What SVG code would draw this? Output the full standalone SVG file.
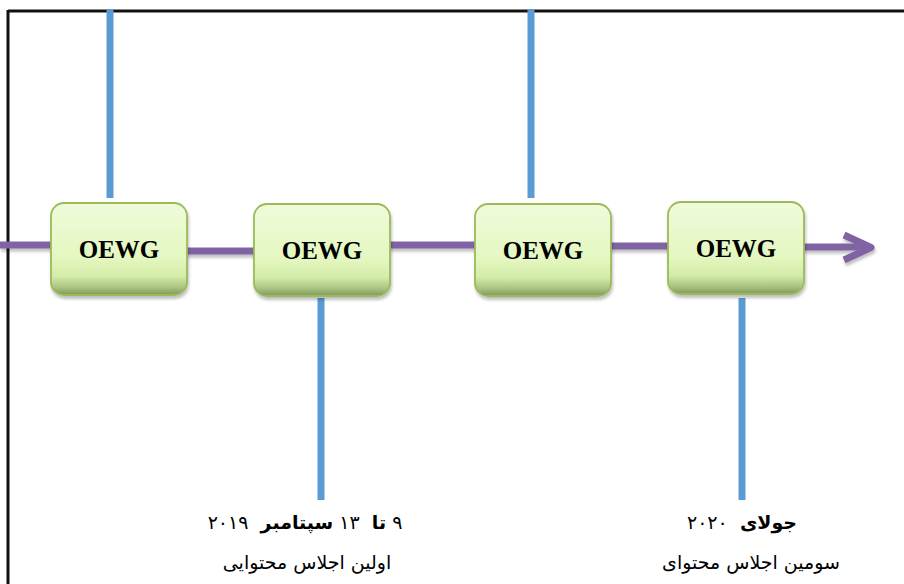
<svg xmlns="http://www.w3.org/2000/svg" width="904" height="584" viewBox="0 0 904 584">
<style>
.frame{stroke:#111;stroke-width:3;fill:none}
.blue{stroke:#5B9BD5;stroke-width:7;fill:none}
.purple{stroke:#8064A2;stroke-width:7;fill:none;stroke-linecap:butt}
.box{fill:url(#boxg);stroke:#9BBB59;stroke-width:1.8}
.lbl{font-family:"Liberation Serif","Times New Roman",serif;font-weight:bold;font-size:25px;fill:#000;text-anchor:middle}
.fa{font-family:"DejaVu Sans",sans-serif;font-size:19px;fill:#000;text-anchor:middle}
</style>
<defs>
<linearGradient id="boxg" x1="0" y1="0" x2="0" y2="1">
<stop offset="0" stop-color="#EFFBDA"/>
<stop offset="0.6" stop-color="#E4F7C0"/>
<stop offset="0.8" stop-color="#D4EBA8"/>
<stop offset="0.92" stop-color="#A9C27F"/>
<stop offset="1" stop-color="#7E985C"/>
</linearGradient>
<filter id="sh" x="-10%" y="-50%" width="120%" height="250%">
<feDropShadow dx="1" dy="3" stdDeviation="1.5" flood-color="#000" flood-opacity="0.25"/>
</filter>
</defs>
<g id="frame">
<line class="frame" x1="8" y1="11" x2="904" y2="11"/>
<line class="frame" x1="8" y1="10" x2="8" y2="584"/>
</g>
<g id="connectors">
<line class="blue" x1="110" y1="9" x2="110" y2="198"/>
<line class="blue" x1="531" y1="9" x2="531" y2="198"/>
<line class="blue" x1="321" y1="298" x2="321" y2="500"/>
<line class="blue" x1="742" y1="298" x2="742" y2="500"/>
<g filter="url(#sh)">
<line class="purple" x1="0" y1="245" x2="52" y2="245"/>
<line class="purple" x1="186" y1="251" x2="255" y2="251"/>
<line class="purple" x1="389" y1="245" x2="476" y2="245"/>
<line class="purple" x1="610" y1="246" x2="669" y2="246"/>
<line class="purple" x1="803" y1="247" x2="870" y2="247"/>
<polyline class="purple" points="844,235 871,247.5 844,260" stroke-linecap="round" stroke-linejoin="round"/>
</g>
</g>
<g id="node1">
<rect class="box" x="51" y="203" width="136" height="92" rx="13" filter="url(#sh)"/>
<text class="lbl" x="119" y="258">OEWG</text>
</g>
<g id="node2">
<rect class="box" x="254" y="204" width="136" height="92" rx="13" filter="url(#sh)"/>
<text class="lbl" x="322" y="259">OEWG</text>
</g>
<g id="node3">
<rect class="box" x="475" y="204" width="136" height="92" rx="13" filter="url(#sh)"/>
<text class="lbl" x="543" y="259">OEWG</text>
</g>
<g id="node4">
<rect class="box" x="668" y="202" width="136" height="92" rx="13" filter="url(#sh)"/>
<text class="lbl" x="736" y="257">OEWG</text>
</g>
<g id="label1">
<text class="fa" x="305" y="529" direction="rtl" xml:space="preserve">۹ <tspan font-weight="bold">تا</tspan>  ۱۳ <tspan font-weight="bold">سپتامبر</tspan>  ۲۰۱۹</text>
<text class="fa" x="307" y="569" direction="rtl">اولین اجلاس محتوایی</text>
</g>
<g id="label2">
<text class="fa" x="742" y="529" direction="rtl" xml:space="preserve"><tspan font-weight="bold">جولای</tspan>  ۲۰۲۰</text>
<text class="fa" x="751" y="569" direction="rtl">سومین اجلاس محتوای</text>
</g>
</svg>
